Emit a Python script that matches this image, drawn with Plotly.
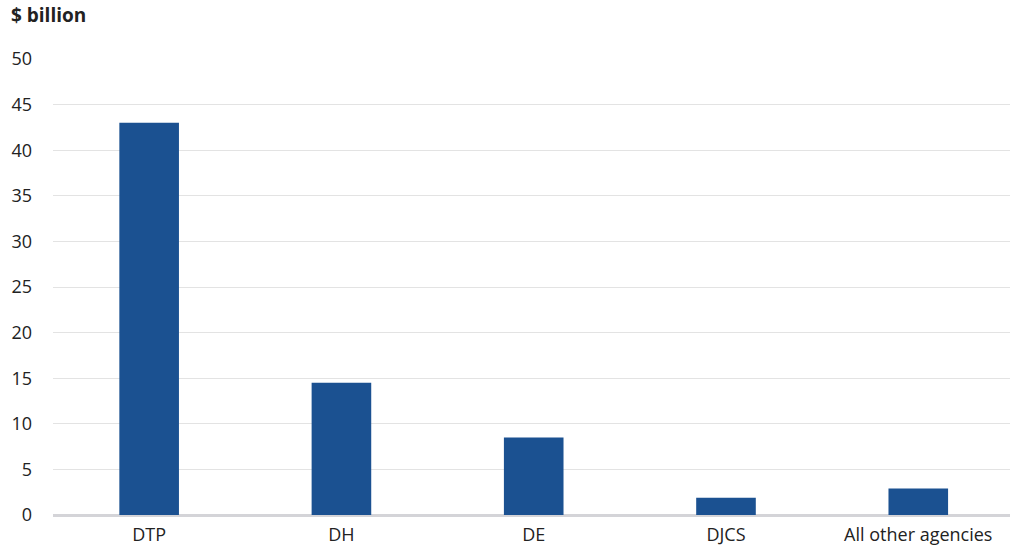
import plotly.graph_objects as go

categories = ["DTP", "DH", "DE", "DJCS", "All other agencies"]
values = [43.0, 14.5, 8.5, 1.9, 2.9]
y_ticks = [0, 5, 10, 15, 20, 25, 30, 35, 40, 45, 50]

fig = go.Figure(go.Bar(
    x=categories, y=values,
    marker=dict(color="#1b5191", line=dict(width=0)),
    width=0.31,
))

fig.update_layout(
    width=1010, height=546,
    margin=dict(l=53, r=0, t=59, b=31, autoexpand=False),
    paper_bgcolor="white", plot_bgcolor="white",
    font=dict(family="Open Sans, Noto Sans, sans-serif", size=18, color="#222222"),
    showlegend=False,
    annotations=[dict(
        text="<b>$ billion</b>", xref="paper", yref="paper",
        x=-0.046, y=1.0, yshift=44, xanchor="left", yanchor="middle",
        showarrow=False, font=dict(size=19, color="#222222"),
    )],
)
fig.update_xaxes(
    showgrid=False, ticks="", showline=False, automargin=False,
    range=[-0.5, 4.477],
    tickfont=dict(size=18), ticklabelstandoff=7,
)
fig.update_yaxes(
    range=[0, 50], tickvals=y_ticks, showgrid=True, gridcolor="#e3e3e3", gridwidth=1,
    zeroline=True, zerolinecolor="#d4d4d8", zerolinewidth=3, automargin=False,
    ticks="", ticklabelstandoff=20, tickfont=dict(size=18),
)

fig.write_html(
    "out.html",
    config={"displayModeBar": False},
    post_script="document.body.style.margin='0';document.body.style.overflow='hidden';",
)
